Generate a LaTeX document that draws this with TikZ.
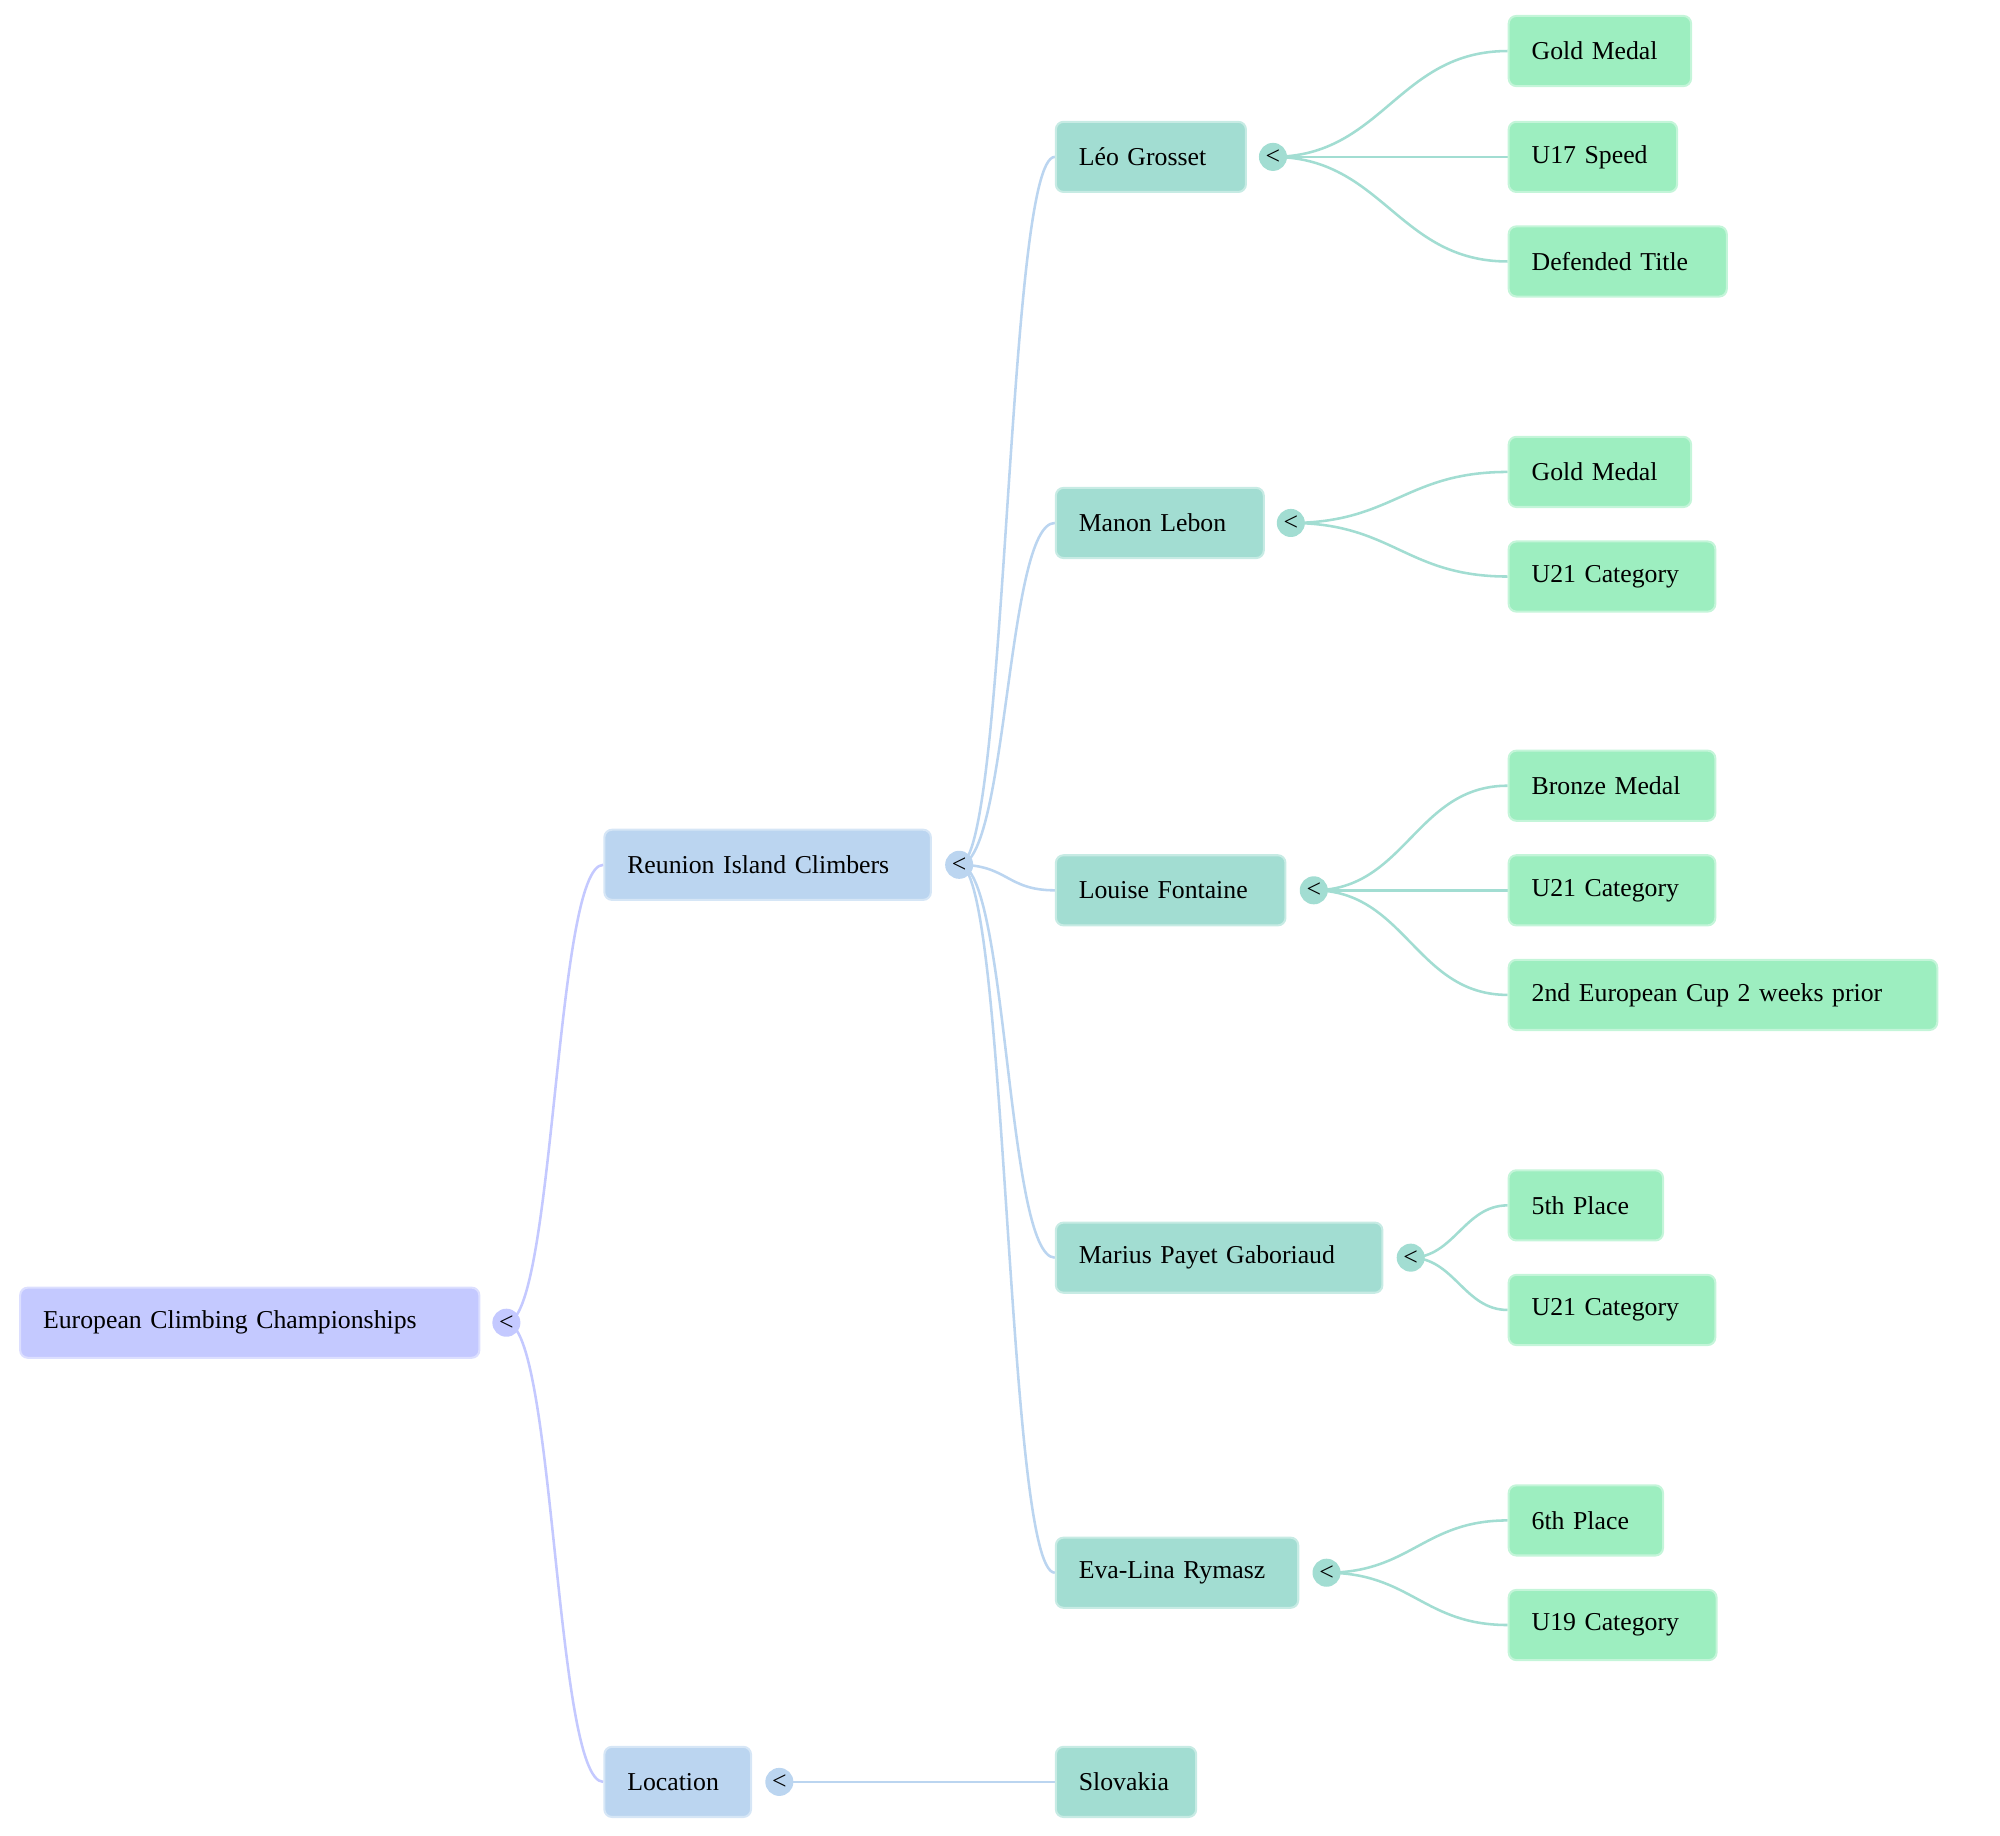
\documentclass[tikz,border=0pt]{standalone}
\usepackage{fontspec}
\setmainfont{Liberation Serif}
\usetikzlibrary{backgrounds}

\definecolor{rootfill}{HTML}{C4C9FF}
\definecolor{topicfill}{HTML}{BBD5F0}
\definecolor{personfill}{HTML}{A2DDD2}
\definecolor{factfill}{HTML}{9DEEC0}

\begin{document}
\begin{tikzpicture}[x=0.5pt, y=-0.5pt,
    box/.style={anchor=west, rounded corners=3pt, minimum height=27.5pt,
        inner xsep=9pt, inner ysep=0pt, align=left, line width=0.8pt,
        font=\fontsize{10.1}{12}\selectfont},
    rootbox/.style={box, fill=rootfill, draw=rootfill!60!white},
    topicbox/.style={box, fill=topicfill, draw=topicfill!60!white},
    personbox/.style={box, fill=personfill, draw=personfill!60!white},
    factbox/.style={box, fill=factfill, draw=factfill!60!white},
    toggle/.style={circle, minimum size=11pt, inner sep=0pt,
        font=\fontsize{10.1}{12}\selectfont},
    link/.style={line width=1pt, out=0, in=180, distance=#1}]

    \useasboundingbox (0,0) rectangle (1568,1439);

    % Root
    \node[rootbox, text width=162pt] (root) at (15,1037) {European Climbing Championships};
    \node[toggle, fill=rootfill] (rootc) at (397,1037) {<};

    % Topics
    \node[topicbox, text width=110pt] (reunion) at (473,678) {Reunion Island Climbers};
    \node[toggle, fill=topicfill] (reunionc) at (752,678) {<};
    \node[topicbox, text width=39.5pt] (location) at (473,1397) {Location};
    \node[toggle, fill=topicfill] (locationc) at (611,1397) {<};
    \node[personbox, text width=37pt] (slovakia) at (827,1397) {Slovakia};

    % Climbers
    \node[personbox, text width=56.5pt] (leo) at (827,123) {Léo Grosset};
    \node[toggle, fill=personfill] (leoc) at (998,123) {<};
    \node[personbox, text width=63.5pt] (manon) at (827,410) {Manon Lebon};
    \node[toggle, fill=personfill] (manonc) at (1012,410) {<};
    \node[personbox, text width=72pt] (louise) at (827,698) {Louise Fontaine};
    \node[toggle, fill=personfill] (louisec) at (1030,698) {<};
    \node[personbox, text width=110pt] (marius) at (827,986) {Marius Payet Gaboriaud};
    \node[toggle, fill=personfill] (mariusc) at (1106,986) {<};
    \node[personbox, text width=77pt] (eva) at (827,1233) {Eva-Lina Rymasz};
    \node[toggle, fill=personfill] (evac) at (1040,1233) {<};

    % Results
    \node[factbox, text width=53.5pt] (leo1) at (1182,40) {Gold Medal};
    \node[factbox, text width=48pt] (leo2) at (1182,123) {U17 Speed};
    \node[factbox, text width=67.5pt] (leo3) at (1182,205) {Defended Title};
    \node[factbox, text width=53.5pt] (manon1) at (1182,370) {Gold Medal};
    \node[factbox, text width=63pt] (manon2) at (1182,452) {U21 Category};
    \node[factbox, text width=63pt] (louise1) at (1182,616) {Bronze Medal};
    \node[factbox, text width=63pt] (louise2) at (1182,698) {U21 Category};
    \node[factbox, text width=150pt] (louise3) at (1182,780) {2nd European Cup 2 weeks prior};
    \node[factbox, text width=42.5pt] (marius1) at (1182,945) {5th Place};
    \node[factbox, text width=63pt] (marius2) at (1182,1027) {U21 Category};
    \node[factbox, text width=42.5pt] (eva1) at (1182,1192) {6th Place};
    \node[factbox, text width=63.5pt] (eva2) at (1182,1274) {U19 Category};

    % Branches
    \begin{scope}[on background layer]
        \draw[link=19pt, rootfill] (rootc.center) to (reunion.west);
        \draw[link=19pt, rootfill] (rootc.center) to (location.west);
        \draw[link=19pt, topicfill] (locationc.center) to (slovakia.west);
        \foreach \p in {leo, manon, louise, marius, eva}
            \draw[link=19pt, topicfill] (reunionc.center) to (\p.west);
        \foreach \f in {leo1, leo2, leo3}
            \draw[link=43pt, personfill] (leoc.center) to (\f.west);
        \foreach \f in {manon1, manon2}
            \draw[link=40pt, personfill] (manonc.center) to (\f.west);
        \foreach \f in {louise1, louise2, louise3}
            \draw[link=36pt, personfill] (louisec.center) to (\f.west);
        \foreach \f in {marius1, marius2}
            \draw[link=17pt, personfill] (mariusc.center) to (\f.west);
        \foreach \f in {eva1, eva2}
            \draw[link=33pt, personfill] (evac.center) to (\f.west);
    \end{scope}

\end{tikzpicture}
\end{document}
